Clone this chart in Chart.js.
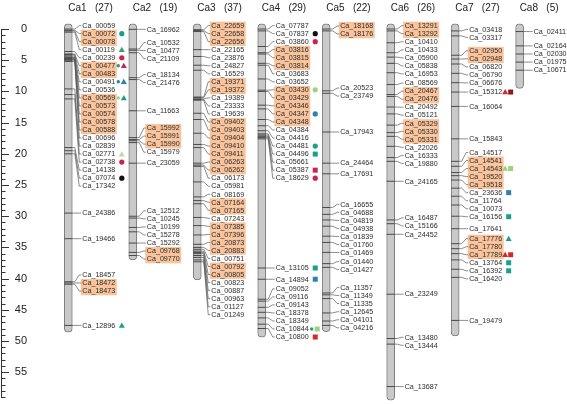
<!DOCTYPE html>
<html>
<head>
<meta charset="utf-8">
<script src="https://cdn.jsdelivr.net/npm/chart.js@4.4.1/dist/chart.umd.min.js"></script>
<style>
  html, body { margin: 0; padding: 0; background: #fff; }
  canvas { display: block; }
</style>
</head>
<body>
<canvas id="map" width="567" height="404"></canvas>
<script>
// chromosomes, gene counts and lengths (cM)
const chromosomes = ["Ca1", "Ca2", "Ca3", "Ca4", "Ca5", "Ca6", "Ca7", "Ca8"];
const geneCounts = [27, 19, 37, 29, 22, 26, 27, 5];
const chromTop = -0.85;
const chromLength = [48.6, 37.0, 40.2, 49.4, 48.5, 59.5, 49.2, 9.5];
const yTickLabels = [0, 5, 10, 15, 20, 25, 30, 35, 40, 45, 50, 55];

// gene names and map positions per chromosome
const ca1Genes = ["Ca_00059", "Ca_00072", "Ca_00078", "Ca_00119", "Ca_00239", "Ca_00477", "Ca_00483", "Ca_00491", "Ca_00536",
  "Ca_00569", "Ca_00573", "Ca_00574", "Ca_00578", "Ca_00588", "Ca_00696", "Ca_02839", "Ca_02771", "Ca_02738", "Ca_14138",
  "Ca_07074", "Ca_17342", "Ca_24386", "Ca_19466", "Ca_18457", "Ca_18472", "Ca_18473", "Ca_12896"];
const ca1Pos = [0.0, 0.2, 0.3, 0.5, 3.6, 4.0, 4.1, 4.3, 4.5, 4.6, 4.7, 4.8, 4.9, 5.0, 5.2, 9.6, 10.5, 11.2, 19.0,
  19.5, 20.0, 29.5, 33.6, 40.5, 40.7, 40.9, 47.5];

const ca2Genes = ["Ca_16962", "Ca_10532", "Ca_10477", "Ca_21109", "Ca_18134", "Ca_21476", "Ca_11663", "Ca_15992", "Ca_15991",
  "Ca_15990", "Ca_15979", "Ca_23059", "Ca_12512", "Ca_10245", "Ca_10199", "Ca_15278", "Ca_15292", "Ca_09768", "Ca_09770"];
const ca2Pos = [0.05, 3.2, 3.4, 3.8, 7.8, 8.1, 13.1, 17.4, 17.7, 17.9, 18.2, 21.5, 30.0, 30.3, 31.8, 32.5, 34.3, 35.8, 36.3];

const ca3Genes = ["Ca_22659", "Ca_22658", "Ca_22656", "Ca_22165", "Ca_23876", "Ca_24827", "Ca_16529", "Ca_19371", "Ca_19372",
  "Ca_19389", "Ca_23333", "Ca_19639", "Ca_09402", "Ca_09403", "Ca_09404", "Ca_09410", "Ca_09411", "Ca_06263", "Ca_06262",
  "Ca_06173", "Ca_05981", "Ca_08169", "Ca_07164", "Ca_07165", "Ca_07243", "Ca_07385", "Ca_07396", "Ca_20873", "Ca_20883",
  "Ca_00751", "Ca_00792", "Ca_00805", "Ca_00823", "Ca_00887", "Ca_00963", "Ca_01127", "Ca_01249"];
const ca3Pos = [0.1, 0.25, 0.4, 3.3, 4.4, 5.8, 6.6, 10.9, 11.0, 11.2, 11.3, 11.4, 13.5, 14.5, 16.7, 18.5, 19.0, 21.5, 21.8,
  22.0, 24.5, 26.9, 27.5, 28.0, 30.2, 31.5, 33.0, 34.5, 35.0, 35.3, 35.6, 35.8, 36.0, 36.3, 36.6, 37.0, 37.3];

const ca4Genes = ["Ca_07787", "Ca_07837", "Ca_03860", "Ca_03816", "Ca_03815", "Ca_03814", "Ca_03683", "Ca_03652", "Ca_03430",
  "Ca_03429", "Ca_04346", "Ca_04347", "Ca_04348", "Ca_04384", "Ca_04416", "Ca_04481", "Ca_04496", "Ca_05661", "Ca_05387",
  "Ca_18629", "Ca_13105", "Ca_14894", "Ca_09052", "Ca_09116", "Ca_09143", "Ca_18378", "Ca_18349", "Ca_10844", "Ca_10800"];
const ca4Pos = [0.0, 0.3, 2.8, 3.8, 4.0, 5.5, 5.8, 8.0, 9.8, 10.0, 12.2, 12.8, 14.5, 15.5, 16.3, 16.8, 17.0, 17.2, 17.4,
  17.6, 38.3, 40.1, 43.3, 43.6, 44.6, 45.4, 46.3, 47.3, 48.0];

const ca5Genes = ["Ca_18168", "Ca_18176", "Ca_20523", "Ca_23749", "Ca_17943", "Ca_24464", "Ca_17691", "Ca_16655", "Ca_04688",
  "Ca_04819", "Ca_04938", "Ca_01839", "Ca_01760", "Ca_01469", "Ca_01440", "Ca_01427", "Ca_11357", "Ca_11349", "Ca_11335",
  "Ca_12645", "Ca_04101", "Ca_04216"];
const ca5Pos = [0.0, 0.3, 9.9, 10.3, 16.5, 21.5, 23.2, 28.6, 29.7, 30.6, 31.6, 33.2, 34.2, 35.8, 37.6, 38.2, 42.3, 42.6, 43.2,
  45.5, 46.8, 47.5];

const ca6Genes = ["Ca_13291", "Ca_13292", "Ca_10410", "Ca_10433", "Ca_05900", "Ca_05838", "Ca_16953", "Ca_08569", "Ca_20467",
  "Ca_20476", "Ca_20492", "Ca_05121", "Ca_05329", "Ca_05330", "Ca_05331", "Ca_22026", "Ca_16333", "Ca_19880", "Ca_24165",
  "Ca_16487", "Ca_15166", "Ca_24452", "Ca_23249", "Ca_13480", "Ca_13444", "Ca_13687"];
const ca6Pos = [0.0, 0.3, 2.2, 3.8, 4.5, 5.5, 7.0, 8.9, 10.5, 10.8, 12.5, 13.6, 15.4, 16.6, 17.2, 18.8, 20.6, 21.2, 24.4,
  30.6, 31.2, 32.9, 42.5, 49.6, 50.5, 57.3];

const ca7Genes = ["Ca_03418", "Ca_03317", "Ca_02950", "Ca_02948", "Ca_06820", "Ca_06790", "Ca_06676", "Ca_15312", "Ca_16064",
  "Ca_15843", "Ca_14517", "Ca_14541", "Ca_14543", "Ca_19520", "Ca_19518", "Ca_23636", "Ca_11764", "Ca_10073", "Ca_16156",
  "Ca_17641", "Ca_17776", "Ca_17780", "Ca_17789", "Ca_13764", "Ca_16392", "Ca_16420", "Ca_19479"];
const ca7Pos = [0.3, 1.1, 4.2, 4.8, 5.6, 7.1, 8.6, 10.1, 12.4, 17.6, 21.2, 22.0, 23.0, 23.5, 24.2, 25.5, 26.8, 28.2, 30.0,
  32.0, 34.4, 35.2, 36.0, 37.0, 38.5, 39.8, 46.7];

const ca8Genes = ["Ca_02411", "Ca_02164", "Ca_02030", "Ca_01975", "Ca_10671"];
const ca8Pos = [0.4, 2.7, 4.0, 5.3, 6.6];

const geneNames = [ca1Genes, ca2Genes, ca3Genes, ca4Genes, ca5Genes, ca6Genes, ca7Genes, ca8Genes];
const genePos = [ca1Pos, ca2Pos, ca3Pos, ca4Pos, ca5Pos, ca6Pos, ca7Pos, ca8Pos];

// genes shown on an orange background
const highlighted = ["Ca_00072", "Ca_00078", "Ca_00477", "Ca_00483", "Ca_00569", "Ca_00573", "Ca_00574", "Ca_00578", "Ca_00588",
  "Ca_18472", "Ca_18473", "Ca_15992", "Ca_15991", "Ca_15990", "Ca_09768", "Ca_09770", "Ca_22659", "Ca_22658", "Ca_22656",
  "Ca_19371", "Ca_19372", "Ca_09402", "Ca_09403", "Ca_09404", "Ca_09410", "Ca_09411", "Ca_06263", "Ca_06262", "Ca_07164",
  "Ca_07165", "Ca_07385", "Ca_07396", "Ca_20873", "Ca_20883", "Ca_00792", "Ca_00805", "Ca_03816", "Ca_03815", "Ca_03814",
  "Ca_03430", "Ca_03429", "Ca_04346", "Ca_04347", "Ca_04348", "Ca_18168", "Ca_18176", "Ca_13291", "Ca_13292", "Ca_20467",
  "Ca_20476", "Ca_05329", "Ca_05330", "Ca_05331", "Ca_02950", "Ca_02948", "Ca_14541", "Ca_14543", "Ca_19520", "Ca_19518",
  "Ca_17776", "Ca_17780", "Ca_17789"];

// symbols next to some genes (shape:colour, "+" for two symbols)
const markedGenes = ["Ca_00072", "Ca_00119", "Ca_00239", "Ca_00477", "Ca_00491", "Ca_00569", "Ca_02771", "Ca_02738", "Ca_07074",
  "Ca_12896", "Ca_07837", "Ca_03860", "Ca_03430", "Ca_04347", "Ca_04481", "Ca_04496", "Ca_05387", "Ca_18629", "Ca_13105",
  "Ca_14894", "Ca_10844", "Ca_10800", "Ca_15312", "Ca_14543", "Ca_23636", "Ca_16156", "Ca_17776", "Ca_17789", "Ca_13764",
  "Ca_16392"];
const markerCodes = ["circle:teal", "tri:green", "circle:crimson", "dot:teal+tri:crimson", "dot:blue+tri:blue", "dot:lime+tri:teal",
  "tri:pale", "circle:crimson", "circle:black", "tri:teal", "circle:black", "circle:crimson", "circle:lime", "circle:blue",
  "circle:teal", "square:teal", "square:crimson", "circle:crimson", "square:teal", "square:blue", "dot:teal+square:lime",
  "square:red", "tri:red+square:darkred", "tri:lime+square:lime", "square:blue", "square:teal", "tri:teal", "tri:red+square:red",
  "square:teal", "square:teal"];

const markerColors = {
  teal: "#17a08b", green: "#37a265", crimson: "#c7254e", blue: "#2f7fb0", lime: "#9fd27f",
  pale: "#b8dfae", black: "#111111", red: "#d62828", darkred: "#8e1b1b"
};
const LABEL_GAP = 8.03;

// spread labels so they do not overlap, clusters centred on their genes
function spreadLabels(pos, minTop) {
  const groups = pos.map((p) => ({ n: 1, sum: p }));
  const top = (g) => Math.max(minTop, g.sum / g.n - (g.n - 1) * LABEL_GAP / 2);
  let merged = true;
  while (merged) {
    merged = false;
    for (let k = 0; k < groups.length - 1; k++) {
      const a = groups[k], b = groups[k + 1];
      if (top(a) + a.n * LABEL_GAP > top(b)) {
        a.n += b.n;
        a.sum += b.sum;
        groups.splice(k + 1, 1);
        merged = true;
        break;
      }
    }
  }
  const out = [];
  groups.forEach((g) => {
    const t = top(g);
    for (let k = 0; k < g.n; k++) out.push(t + k * LABEL_GAP);
  });
  return out;
}

function drawMarker(ctx, shape, color, mx, my) {
  ctx.fillStyle = markerColors[color];
  ctx.beginPath();
  if (shape === "circle") ctx.arc(mx, my, 2.6, 0, Math.PI * 2);
  else if (shape === "dot") ctx.arc(mx, my, 1.7, 0, Math.PI * 2);
  else if (shape === "tri") {
    ctx.moveTo(mx, my - 3);
    ctx.lineTo(mx + 3, my + 2.3);
    ctx.lineTo(mx - 3, my + 2.3);
    ctx.closePath();
  } else ctx.rect(mx - 2.5, my - 2.5, 5, 5);
  ctx.fill();
}

const geneMapPlugin = {
  id: "geneMap",
  afterDatasetsDraw(chart) {
    const { ctx, scales: { x, y } } = chart;
    ctx.save();

    // axis line with minor and major ticks
    ctx.strokeStyle = "#333";
    ctx.lineWidth = 1;
    ctx.beginPath();
    ctx.moveTo(1.5, y.getPixelForValue(0));
    ctx.lineTo(1.5, y.getPixelForValue(59));
    for (let v = 0; v <= 59; v++) {
      const ty = Math.round(y.getPixelForValue(v)) + 0.5;
      ctx.moveTo(1, ty);
      ctx.lineTo(v % 5 === 0 ? 9 : 5.5, ty);
    }
    ctx.stroke();

    chromosomes.forEach((c, ci) => {
      const cx = x.getPixelForValue(ci);
      const names = geneNames[ci];
      const py = genePos[ci].map((v) => y.getPixelForValue(v));
      const ly = spreadLabels(py, y.getPixelForValue(-0.55));
      const lx = cx + 14;

      ctx.fillStyle = "#f9c49c";
      names.forEach((n, i) => {
        if (highlighted.includes(n)) ctx.fillRect(lx - 1.5, ly[i] - LABEL_GAP / 2, 36, LABEL_GAP + 0.3);
      });

      ctx.strokeStyle = "#5a5a5a";
      ctx.lineWidth = 0.7;
      ctx.beginPath();
      names.forEach((n, i) => {
        ctx.moveTo(cx + 4, py[i]);
        ctx.lineTo(cx + 6.5, py[i]);
        ctx.lineTo(cx + 11, ly[i]);
        ctx.lineTo(cx + 13, ly[i]);
      });
      ctx.stroke();

      ctx.strokeStyle = "#4a4a4a";
      ctx.lineWidth = 1;
      ctx.beginPath();
      py.forEach((p) => {
        ctx.moveTo(cx - 4, p);
        ctx.lineTo(cx + 4, p);
      });
      ctx.stroke();

      ctx.fillStyle = "#2b2b2b";
      ctx.font = '7.15px "Liberation Sans", Arial, sans-serif';
      ctx.textBaseline = "middle";
      ctx.textAlign = "left";
      names.forEach((n, i) => ctx.fillText(n, lx, ly[i] + 0.3));

      names.forEach((n, i) => {
        const k = markedGenes.indexOf(n);
        if (k < 0) return;
        const parts = markerCodes[k].split("+");
        parts.forEach((p, j) => {
          const [shape, color] = p.split(":");
          const mx = parts.length === 1 ? lx + 39.5 : lx + 36 + j * 5.5;
          drawMarker(ctx, shape, color, mx, ly[i]);
        });
      });
    });
    ctx.restore();
  }
};

Chart.defaults.font.family = '"Liberation Sans", Arial, sans-serif';

new Chart(document.getElementById("map").getContext("2d"), {
  type: "bar",
  data: {
    datasets: [{
      data: chromosomes.map((c, i) => ({ x: i, y: [chromTop, chromLength[i]] })),
      backgroundColor: "#c9c9c9",
      borderColor: "#7d7d7d",
      borderWidth: 1,
      borderRadius: 4,
      borderSkipped: false,
      barThickness: 8,
      clip: false,
    }],
  },
  options: {
    responsive: false,
    devicePixelRatio: 1,
    animation: false,
    layout: { padding: { left: 0, right: 5, top: 0, bottom: 0.6 } },
    plugins: { legend: { display: false }, tooltip: { enabled: false } },
    scales: {
      x: {
        type: "linear",
        position: "top",
        offset: false,
        min: -0.594,
        max: 7.657,
        grid: { display: false, drawTicks: false },
        border: { display: false },
        ticks: {
          stepSize: 1,
          includeBounds: false,
          align: "start",
          padding: 9,
          color: "#1a1a1a",
          font: { size: 10 },
          callback: (v) => (Number.isInteger(v) && v >= 0 && v < chromosomes.length
            ? chromosomes[v] + "   (" + geneCounts[v] + ")" : ""),
        },
        afterFit: (s) => { s.height = 22.8; s.paddingLeft = 0; s.paddingRight = 0; },
      },
      y: {
        type: "linear",
        reverse: true,
        min: -1,
        max: 60,
        position: "left",
        grid: { display: false, drawTicks: false },
        border: { display: false },
        ticks: {
          stepSize: 5,
          maxTicksLimit: 100,
          includeBounds: false,
          padding: 3,
          color: "#222",
          font: { size: 11 },
          callback: (v) => (yTickLabels.includes(v) ? String(v) : ""),
        },
        afterFit: (s) => { s.width = 30; s.paddingTop = 0; s.paddingBottom = 0; },
      },
    },
  },
  plugins: [geneMapPlugin],
});
</script>
</body>
</html>
